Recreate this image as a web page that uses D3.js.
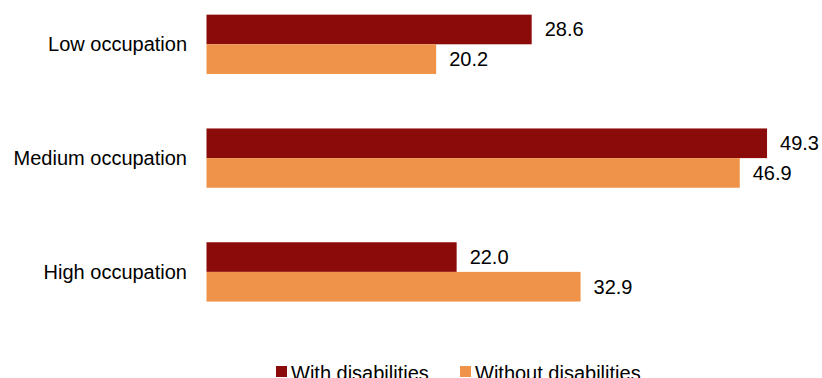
<!DOCTYPE html>
<html>
<head>
<meta charset="utf-8">
<script src="https://cdn.jsdelivr.net/npm/d3@7"></script>
<style>
  html, body { margin: 0; padding: 0; background: #fff; }
  svg { display: block; font-family: "Liberation Sans", Arial, sans-serif; }
</style>
</head>
<body>
<svg id="chart" width="822" height="378"></svg>
<script>
const categories = ["Low occupation", "Medium occupation", "High occupation"];
const seriesNames = ["With disabilities", "Without disabilities"];
const withDisabilities = [28.6, 49.3, 22.0];
const withoutDisabilities = [20.2, 46.9, 32.9];
const seriesColors = ["#8b0a0a", "#ee9349"];

const series = [withDisabilities, withoutDisabilities];
const svg = d3.select("#chart");
const fontSize = 20;

const x = d3.scaleLinear().domain([0, 50]).range([206.5, 206.5 + 50 * 11.37]);

const y = d3.scaleBand()
  .domain(categories)
  .range([-12.6, -12.6 + 3 * 113.8])
  .paddingInner(0.479)
  .paddingOuter(0.2395);

const ySub = d3.scaleBand()
  .domain(d3.range(series.length))
  .range([0, y.bandwidth()]);

const groups = svg.selectAll("g.group")
  .data(categories)
  .join("g")
  .attr("class", "group")
  .attr("transform", d => `translate(0,${y(d)})`);

groups.each(function(cat, i) {
  const g = d3.select(this);
  series.forEach((vals, s) => {
    const v = vals[i];
    g.append("rect")
      .attr("x", x(0))
      .attr("y", ySub(s))
      .attr("width", x(v) - x(0))
      .attr("height", ySub.bandwidth())
      .attr("fill", seriesColors[s]);
    g.append("text")
      .attr("x", x(v) + 13)
      .attr("y", ySub(s) + ySub.bandwidth() / 2)
      .attr("dy", "0.35em")
      .attr("font-size", fontSize)
      .attr("fill", "#000")
      .text(v.toFixed(1));
  });
  g.append("text")
    .attr("x", 187)
    .attr("y", y.bandwidth() / 2)
    .attr("dy", "0.35em")
    .attr("text-anchor", "end")
    .attr("font-size", fontSize)
    .attr("fill", "#000")
    .text(cat);
});

// Legend along the bottom edge
const legendX = [276, 460];
const legend = svg.selectAll("g.legend")
  .data(seriesNames)
  .join("g")
  .attr("class", "legend")
  .attr("transform", (d, i) => `translate(${legendX[i]},366)`);
legend.append("rect")
  .attr("width", 11).attr("height", 11)
  .attr("fill", (d, i) => seriesColors[i]);
legend.append("text")
  .attr("x", 15)
  .attr("y", 13.5)
  .attr("font-size", fontSize)
  .attr("fill", "#000")
  .text(d => d);
</script>
</body>
</html>
